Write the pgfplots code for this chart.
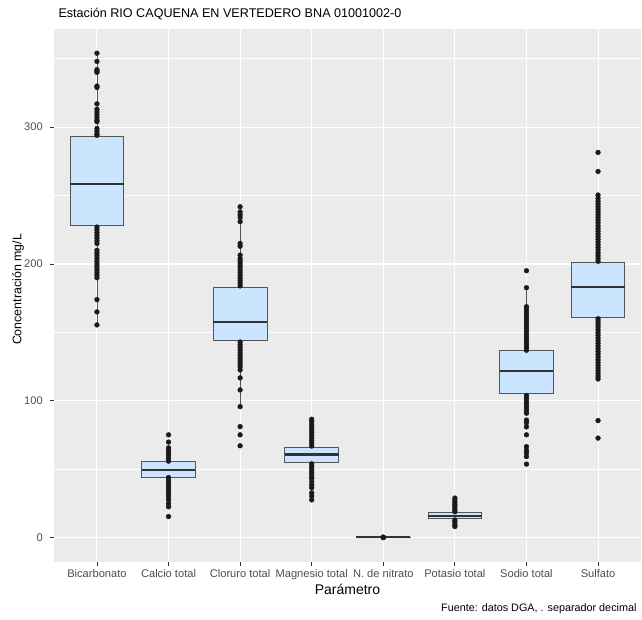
\documentclass[border=0pt]{standalone}
\usepackage{pgfplots}
\pgfplotsset{compat=1.18}
\usetikzlibrary{calc}
\usepackage{fontspec}
\setmainfont{Liberation Sans}
\definecolor{panel}{HTML}{EBEBEB}
\definecolor{boxfill}{HTML}{CCE5FF}
\definecolor{boxline}{HTML}{555555}
\definecolor{ptcol}{HTML}{1A1A1A}
\definecolor{tickgrey}{HTML}{4D4D4D}
\definecolor{tickmark}{HTML}{333333}
\begin{document}
\begin{tikzpicture}
\begin{axis}[
  scale only axis, width=587pt, height=533pt,
  xmin=0.4, xmax=8.6, ymin=-17.7, ymax=371.7,
  axis background/.style={fill=panel},
  axis line style={draw=none},
  grid=both,
  major grid style={white, line width=1.07pt},
  minor grid style={white, line width=0.53pt},
  xtick={1,2,3,4,5,6,7,8},
  xticklabels={Bicarbonato, Calcio total, Cloruro total, Magnesio total, N. de nitrato, Potasio total, Sodio total, Sulfato},
  ytick={0,100,200,300}, minor ytick={50,150,250,350},
  tick align=outside, major tick length=3.7pt, minor tick length=0pt,
  tick style={color=tickmark, line width=0.8pt},
  xtick pos=bottom, ytick pos=left,
  /pgf/number format/assume math mode=true,
  tick label style={font=\fontsize{11.1}{13}\selectfont, text=tickgrey},
  yticklabel style={xshift=-4pt},
  xticklabel style={yshift=-0.5pt},
  clip=false,
  whisk/.style={draw=boxline, line width=0.9pt, no marks},
  bx/.style={draw=boxline, fill=boxfill, line width=0.9pt, no marks},
  med/.style={draw=tickmark, line width=2.1pt, no marks},
]
\coordinate (sw) at (rel axis cs:0,0);
\coordinate (ne) at (rel axis cs:1,1);
% data points
\addplot[only marks, mark=*, mark size=2.4pt, color=ptcol] coordinates {
 (1,354) (1,348) (1,342) (1,341) (1,340) (1,330) (1,329) (1,317) (1,313) (1,311) (1,309) (1,307) (1,305) (1,304) (1,299) (1,297) (1,295) (1,294)
 (1,227) (1,225) (1,223) (1,221) (1,219) (1,217) (1,215) (1,210) (1,208) (1,206) (1,204) (1,202) (1,200) (1,198) (1,196) (1,194) (1,192) (1,190) (1,174) (1,165) (1,155.5)
 (2,75.2) (2,69.9) (2,65.7) (2,64) (2,62) (2,60) (2,58) (2,56)
 (2,44) (2,42) (2,40) (2,38) (2,36) (2,34) (2,32) (2,30) (2,27.7) (2,25) (2,22.6) (2,15.5)
 (3,241.8) (3,238) (3,236) (3,234) (3,231) (3,215) (3,213) (3,206.5) (3,204) (3,202) (3,200) (3,198) (3,196) (3,194) (3,192) (3,190) (3,188) (3,186) (3,184)
 (3,143) (3,141) (3,139) (3,137) (3,135) (3,133) (3,131) (3,129) (3,127) (3,125) (3,122.6) (3,116.8) (3,108) (3,95.8) (3,81.2) (3,75.2) (3,67.2)
 (4,86.6) (4,85) (4,83) (4,81) (4,79) (4,77) (4,75) (4,73) (4,71) (4,69) (4,67)
 (4,54) (4,52) (4,50) (4,48) (4,46) (4,44) (4,43.5) (4,41) (4,38.5) (4,36.5) (4,32.8) (4,30.5) (4,27.7)
 (5,0.2) (5,0.3) (5,0.1) (5,0.5)
 (6,29) (6,27.5) (6,26) (6,24.5) (6,23) (6,21.5) (6,20) (6,19) (6,13) (6,12) (6,10.5) (6,9) (6,8.2)
 (7,195.1) (7,182.7) (7,168.8) (7,167) (7,165) (7,163) (7,161) (7,159) (7,157) (7,155) (7,153) (7,151) (7,149) (7,147) (7,145) (7,143) (7,141) (7,139) (7,137)
 (7,104) (7,102) (7,100) (7,98) (7,96) (7,94) (7,92) (7,91) (7,86) (7,84) (7,81) (7,75.2) (7,66.6) (7,64) (7,62) (7,59.3) (7,53.8)
 (8,281.5) (8,267.6) (8,250.4) (8,248) (8,246) (8,244) (8,242) (8,240) (8,238) (8,236) (8,234) (8,232) (8,230) (8,228) (8,226) (8,224) (8,222) (8,220) (8,218) (8,216) (8,214) (8,212) (8,210) (8,208) (8,206) (8,204) (8,202)
 (8,160) (8,158) (8,156) (8,154) (8,152) (8,150) (8,148) (8,146) (8,144) (8,142) (8,140) (8,138) (8,136) (8,134) (8,132) (8,130) (8,128) (8,126) (8,124) (8,122) (8,120) (8,118) (8,116) (8,85.6) (8,72.8)
};
% whiskers (lower whisker to upper whisker)
\addplot[whisk] coordinates {(1,155.5) (1,354)};
\addplot[whisk] coordinates {(2,30) (2,66)};
\addplot[whisk] coordinates {(3,95.8) (3,241.8)};
\addplot[whisk] coordinates {(4,41) (4,83)};
\addplot[whisk] coordinates {(5,0.1) (5,0.5)};
\addplot[whisk] coordinates {(6,8.2) (6,26)};
\addplot[whisk] coordinates {(7,91) (7,182.7)};
\addplot[whisk] coordinates {(8,116) (8,250.4)};
% boxes (lower quartile to upper quartile, width 0.75)
\addplot[bx] coordinates {(0.625,228.5) (1.375,228.5) (1.375,293.4) (0.625,293.4)} -- cycle;
\addplot[bx] coordinates {(1.625,44.3) (2.375,44.3) (2.375,55.7) (1.625,55.7)} -- cycle;
\addplot[bx] coordinates {(2.625,144) (3.375,144) (3.375,183) (2.625,183)} -- cycle;
\addplot[bx] coordinates {(3.625,55) (4.375,55) (4.375,66.2) (3.625,66.2)} -- cycle;
\addplot[bx] coordinates {(4.625,0.2) (5.375,0.2) (5.375,0.35) (4.625,0.35)} -- cycle;
\addplot[bx] coordinates {(5.625,13.9) (6.375,13.9) (6.375,18.7) (5.625,18.7)} -- cycle;
\addplot[bx] coordinates {(6.625,105.1) (7.375,105.1) (7.375,137.2) (6.625,137.2)} -- cycle;
\addplot[bx] coordinates {(7.625,160.8) (8.375,160.8) (8.375,201) (7.625,201)} -- cycle;
% medians
\addplot[med] coordinates {(0.625,258.4) (1.375,258.4)};
\addplot[med] coordinates {(1.625,49.4) (2.375,49.4)};
\addplot[med] coordinates {(2.625,157.7) (3.375,157.7)};
\addplot[med] coordinates {(3.625,60.8) (4.375,60.8)};
\addplot[med] coordinates {(4.625,0.25) (5.375,0.25)};
\addplot[med] coordinates {(5.625,16) (6.375,16)};
\addplot[med] coordinates {(6.625,121.9) (7.375,121.9)};
\addplot[med] coordinates {(7.625,183.2) (8.375,183.2)};
\end{axis}
\node[anchor=base west, font=\fontsize{12.6}{15}\selectfont] at ([xshift=1pt, yshift=11pt]sw |- ne) {Estación RIO CAQUENA EN VERTEDERO BNA 01001002-0};
\node[anchor=center, font=\fontsize{14}{16}\selectfont] at ([yshift=-27pt]$(sw)!0.5!(sw -| ne)$) {Parámetro};
\node[anchor=center, rotate=90, font=\fontsize{12.4}{15}\selectfont] at ([xshift=-36pt, yshift=6pt]$(sw)!0.5!(sw |- ne)$) {Concentración mg/L};
\node[anchor=east, font=\fontsize{10.8}{13}\selectfont] at ([xshift=-1pt, yshift=-47pt]sw -| ne) {Fuente: datos DGA, . separador decimal};
\pgfresetboundingbox
\path ([xshift=-54pt, yshift=-58pt]sw) rectangle ([xshift=1pt, yshift=29pt]ne);
\end{tikzpicture}
\end{document}
